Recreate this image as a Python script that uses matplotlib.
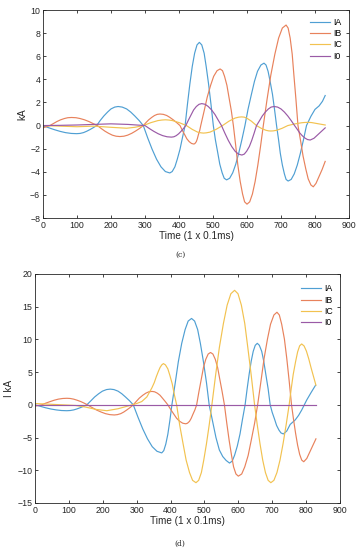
import matplotlib
matplotlib.use("Agg")
import matplotlib.pyplot as plt

# ---- panel (c): fault currents, kA ----
c_ia_t = [0, 16, 33, 50, 66, 83, 99, 109, 119, 128, 138, 148, 158, 168, 179, 190, 200, 211, 221,
          233, 246, 258, 270, 283, 295, 308, 321, 334, 347, 360, 373, 380, 388, 395, 403, 410, 418,
          425, 432, 439, 446, 453, 460, 467, 474, 480, 487, 494, 501, 507, 514, 520, 527, 533, 540,
          549, 558, 567, 576, 585, 594, 603, 613, 622, 631, 641, 650, 656, 662, 668, 675, 681, 687,
          693, 698, 704, 710, 715, 721, 730, 739, 748, 757, 766, 775, 788, 800, 812, 822, 830]
c_ia_v = [0, -0.18, -0.35, -0.5, -0.61, -0.68, -0.7, -0.68, -0.61, -0.5, -0.35, -0.18, 0,
          0.43, 0.83, 1.17, 1.44, 1.6, 1.65, 1.6, 1.44, 1.17, 0.83, 0.43, 0,
          -1.07, -2.05, -2.91, -3.57, -3.98, -4.1, -3.98, -3.57, -2.91, -2.05, -1.07, 0,
          1.87, 3.6, 5.11, 6.26, 6.98, 7.2, 6.98, 6.26, 5.11, 3.6, 1.87, 0,
          -1.22, -2.35, -3.34, -4.09, -4.56, -4.7, -4.56, -4.09, -3.34, -2.35, -1.22, 0,
          1.4, 2.7, 3.83, 4.7, 5.24, 5.4, 5.24, 4.7, 3.83, 2.7, 1.4, 0,
          -1.25, -2.4, -3.41, -4.18, -4.66, -4.8, -4.66, -4.18, -3.41, -2.4, -1.25, 0,
          0.8, 1.4, 1.7, 2.1, 2.6]

c_ib_t = [0, 10, 20, 31, 41, 52, 63, 73, 84, 97, 109, 122, 135, 147, 160, 171, 182, 193, 204, 215,
          226, 238, 249, 261, 272, 284, 295, 303, 311, 320, 328, 336, 344, 354, 364, 373, 383, 393,
          403, 410, 417, 423, 430, 437, 444, 447, 451, 454, 457, 461, 464, 474, 483, 493, 502, 512,
          521, 528, 534, 541, 547, 554, 560, 567, 573, 580, 587, 593, 600, 608, 616, 624, 632, 640,
          648, 659, 670, 682, 693, 704, 715, 721, 727, 733, 738, 744, 750, 758, 765, 773, 780, 788,
          795, 803, 812, 821, 830]
c_ib_v = [-0.2, -0.1, 0, 0.18, 0.35, 0.5, 0.61, 0.68, 0.7, 0.68, 0.61, 0.5, 0.35, 0.18, 0,
          -0.25, -0.48, -0.67, -0.83, -0.92, -0.95, -0.92, -0.83, -0.67, -0.48, -0.25, 0,
          0.26, 0.5, 0.71, 0.87, 0.97, 1.0, 0.97, 0.87, 0.71, 0.5, 0.26, 0,
          -0.42, -0.8, -1.14, -1.39, -1.55, -1.6, -1.55, -1.39, -1.14, -0.8, -0.42, 0,
          1.27, 2.45, 3.48, 4.26, 4.75, 4.9, 4.75, 4.26, 3.48, 2.45, 1.27, 0,
          -1.77, -3.4, -4.83, -5.92, -6.6, -6.8, -6.6, -5.92, -4.83, -3.4, -1.77, 0,
          2.26, 4.35, 6.18, 7.57, 8.44, 8.7, 8.44, 7.57, 6.18, 4.35, 2.26, 0,
          -1.38, -2.65, -3.76, -4.61, -5.14, -5.3, -5.0, -4.4, -3.8, -3.1]

c_ic_t = [0, 50, 100, 150, 200, 246, 270, 295, 317, 338, 350, 360, 370, 381, 401, 422, 439, 455,
          465, 472, 480, 491, 509, 528, 547, 565, 576, 584, 592, 599, 613, 628, 642, 656, 664, 670,
          677, 687, 703, 720, 740, 760, 770, 780, 790, 805, 830]
c_ic_v = [0.0, -0.05, -0.1, -0.05, -0.15, -0.23, -0.15, 0, 0.25, 0.43, 0.48, 0.5, 0.48, 0.43, 0.25,
          0, -0.33, -0.57, -0.63, -0.65, -0.63, -0.57, -0.33, 0, 0.38, 0.65, 0.73, 0.75, 0.73, 0.65,
          0.38, 0, -0.24, -0.41, -0.46, -0.47, -0.46, -0.41, -0.24, 0, 0.14, 0.24, 0.27, 0.28, 0.26,
          0.18, 0.05]

c_i0_t = [0, 50, 100, 150, 200, 250, 300, 313, 326, 339, 352, 365, 378, 385, 392, 399, 406, 413,
          420, 428, 436, 443, 451, 459, 467, 477, 486, 496, 506, 515, 525, 535, 545, 555, 565, 575,
          585, 592, 599, 607, 614, 621, 628, 637, 645, 654, 663, 671, 680, 690, 700, 710, 720, 730,
          740, 748, 755, 763, 771, 778, 786, 797, 808, 819, 830]
c_i0_v = [0, 0.02, 0.05, 0.1, 0.15, 0.1, 0, -0.26, -0.5, -0.71, -0.87, -0.97, -1.0, -0.97, -0.87,
          -0.71, -0.5, -0.26, 0, 0.49, 0.95, 1.35, 1.65, 1.84, 1.9, 1.84, 1.65, 1.35, 0.95, 0.49, 0,
          -0.66, -1.28, -1.81, -2.22, -2.47, -2.55, -2.47, -2.22, -1.81, -1.28, -0.66, 0,
          0.43, 0.83, 1.17, 1.44, 1.6, 1.65, 1.6, 1.44, 1.17, 0.83, 0.43, 0,
          -0.33, -0.63, -0.89, -1.09, -1.21, -1.25, -1.1, -0.8, -0.5, -0.2]

# ---- panel (d): fault currents, I kA ----
d_ia_t = [0, 16, 31, 47, 63, 78, 94, 104, 114, 123, 133, 143, 153, 165, 176, 188, 199, 211, 222,
          233, 245, 256, 267, 279, 290, 304, 318, 332, 346, 360, 374, 380, 386, 392, 398, 404, 414,
          423, 433, 443, 452, 462, 471, 480, 488, 497, 506, 514, 524, 534, 544, 554, 564, 574, 582,
          589, 597, 605, 612, 620, 626, 632, 638, 644, 650, 656, 662, 669, 675, 681, 688, 694, 700,
          707, 713, 720, 726, 733, 743, 753, 768, 778, 787, 802, 815, 828]
d_ia_v = [0, -0.23, -0.45, -0.64, -0.78, -0.87, -0.9, -0.87, -0.78, -0.64, -0.45, -0.23, 0,
          0.62, 1.2, 1.7, 2.09, 2.33, 2.4, 2.33, 2.09, 1.7, 1.2, 0.62, 0,
          -1.9, -3.68, -5.2, -6.4, -7.1, -7.35, -7.0, -6.0, -4.5, -2.4, 0,
          3.4, 6.6, 9.4, 11.5, 12.8, 13.2, 12.8, 11.5, 9.4, 6.6, 3.4, 0,
          -2.5, -5.0, -6.9, -7.9, -8.5, -8.9, -8.6, -7.7, -6.3, -4.45, -2.3, 0,
          2.44, 4.7, 6.67, 8.18, 9.1, 9.4, 9.1, 8.18, 6.67, 4.7, 2.44, 0,
          -1.16, -2.2, -3.16, -3.87, -4.3, -4.45, -4.0, -3.0, -2.3, -1.6, -0.8, 0.75, 1.9, 3.0]

d_ib_t = [0, 10, 20, 32, 45, 57, 69, 82, 94, 104, 114, 124, 135, 145, 155, 168, 181, 195, 208, 221,
          234, 243, 253, 262, 271, 281, 290, 299, 308, 318, 327, 336, 345, 353, 361, 369, 376, 384,
          392, 401, 410, 418, 427, 436, 445, 450, 456, 461, 466, 472, 477, 484, 491, 497, 504, 511,
          518, 525, 532, 539, 545, 552, 559, 566, 573, 580, 586, 593, 600, 610, 619, 629, 638, 648,
          657, 667, 676, 686, 695, 705, 714, 721, 728, 736, 743, 750, 757, 763, 769, 775, 781, 787,
          793, 802, 811, 820, 829]
d_ib_v = [-0.2, -0.1, 0, 0.26, 0.5, 0.71, 0.87, 0.97, 1.0, 0.97, 0.87, 0.71, 0.5, 0.26, 0,
          -0.4, -0.78, -1.1, -1.35, -1.5, -1.55, -1.5, -1.35, -1.1, -0.78, -0.4, 0,
          0.53, 1.03, 1.46, 1.78, 1.99, 2.05, 1.99, 1.78, 1.46, 1.03, 0.53, 0,
          -0.75, -1.45, -2.06, -2.52, -2.81, -2.9, -2.81, -2.52, -2.06, -1.45, -0.75, 0,
          2.08, 4.0, 5.68, 6.96, 7.76, 8.0, 7.76, 6.96, 5.68, 4.0, 2.08, 0,
          -2.83, -5.45, -7.74, -9.48, -10.57, -10.9, -10.57, -9.48, -7.74, -5.45, -2.83, 0,
          3.68, 7.08, 10.05, 12.31, 13.73, 14.15, 13.73, 12.31, 10.05, 7.08, 3.68, 0,
          -2.26, -4.35, -6.18, -7.57, -8.44, -8.7, -8.2, -7.2, -6.2, -5.2]

d_ic_t = [0, 40, 80, 120, 150, 180, 212, 245, 280, 300, 315, 330, 345, 352, 358, 364, 369, 374, 379,
          385, 392, 398, 405, 411, 418, 427, 437, 446, 456, 465, 475, 483, 491, 498, 506, 514, 522,
          533, 544, 556, 567, 578, 589, 599, 609, 619, 628, 638, 648, 656, 664, 672, 680, 688, 696,
          705, 714, 723, 732, 741, 750, 756, 762, 769, 775, 781, 787, 794, 801, 808, 815, 822, 829]
d_ic_v = [0.2, 0.1, 0, -0.1, -0.35, -0.7, -0.9, -0.6, -0.1, 0.2, 0.5, 1.2, 2.6, 3.4, 4.3, 5.1, 5.7,
          6.1, 6.3, 6.1, 5.5, 4.5, 3.2, 1.6, 0,
          -3.1, -5.95, -8.45, -10.35, -11.54, -11.9, -11.54, -10.35, -8.45, -5.95, -3.1, 0,
          4.55, 8.75, 12.43, 15.23, 16.98, 17.5, 16.98, 15.23, 12.43, 8.75, 4.55, 0,
          -3.1, -5.95, -8.45, -10.35, -11.54, -11.9, -11.54, -10.35, -8.45, -5.95, -3.1, 0,
          2.42, 4.65, 6.6, 8.09, 9.02, 9.3, 9.0, 8.2, 7.0, 5.6, 4.3, 3.0]

d_i0_t = [0, 830]
d_i0_v = [0, 0]

labels = ["IA", "IB", "IC", "I0"]
COLORS = ["#4f9fd3", "#e8825c", "#f2c250", "#9a5aa6"]
INK = "#262626"

plt.rcParams["font.family"] = ["Liberation Sans", "DejaVu Sans"]

fig = plt.figure(figsize=(3.6, 5.5), dpi=100, facecolor="white")
ax_c = fig.add_axes([0.1194, 0.6036, 0.85, 0.3782])
ax_d = fig.add_axes([0.0972, 0.0855, 0.8472, 0.4164])

panels = [
    (ax_c, [(c_ia_t, c_ia_v), (c_ib_t, c_ib_v), (c_ic_t, c_ic_v), (c_i0_t, c_i0_v)],
     (-8, 10), range(-8, 11, 2), "kA", "(c)", 0.536, (1.0, 0.995)),
    (ax_d, [(d_ia_t, d_ia_v), (d_ib_t, d_ib_v), (d_ic_t, d_ic_v), (d_i0_t, d_i0_v)],
     (-15, 20), range(-15, 21, 5), "I kA", "(d)", 0.011, (1.0, 0.985)),
]

for ax, series, ylim, yticks, ylabel, tag, tag_y, anchor in panels:
    for (t, v), lab, col in zip(series, labels, COLORS):
        ax.plot(t, v, color=col, lw=0.85, label=lab)
    ax.set_xlim(0, 900)
    ax.set_ylim(*ylim)
    ax.set_xticks(range(0, 901, 100))
    ax.set_yticks(list(yticks))
    ax.tick_params(direction="in", top=True, right=True, length=2.5, width=0.6,
                   labelsize=6.3, colors=INK, pad=2)
    for sp in ax.spines.values():
        sp.set_color(INK)
        sp.set_linewidth(0.6)
    ax.set_xlabel("Time (1 x 0.1ms)", fontsize=7.2, color=INK, labelpad=1)
    ax.set_ylabel(ylabel, fontsize=7.2, color=INK, labelpad=2)
    fig.text(0.5, tag_y, tag, ha="center", va="center",
             fontsize=5.5, family="DejaVu Serif", color=INK)
    ax.legend(loc="upper right", bbox_to_anchor=anchor, frameon=False, fontsize=6.3,
              handlelength=2.3, handletextpad=0.4, labelspacing=0.25, borderaxespad=0.4)

fig.savefig("out.png", dpi=100, facecolor="white")
